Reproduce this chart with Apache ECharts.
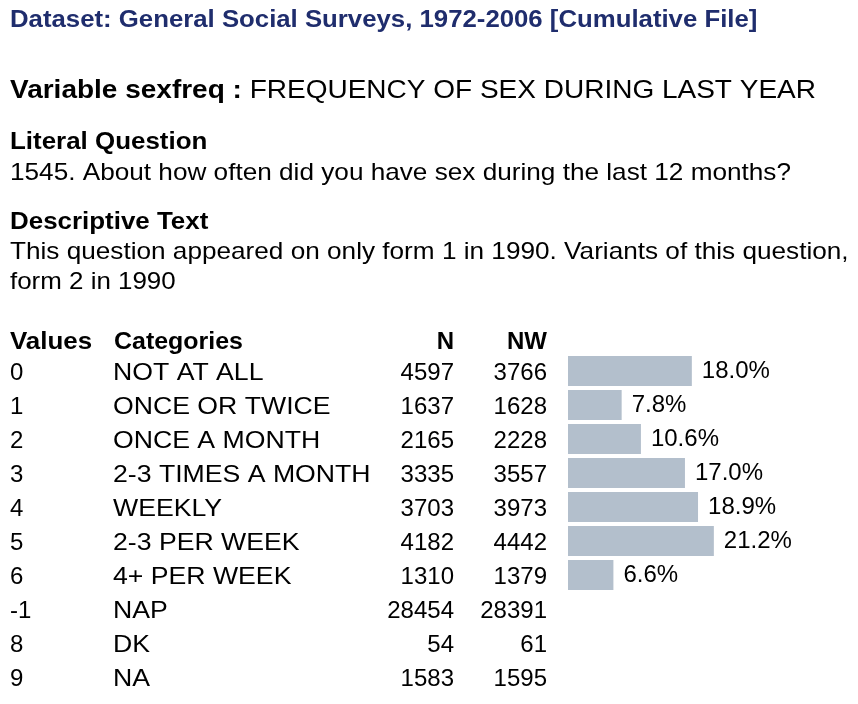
<!DOCTYPE html>
<html>
<head>
<meta charset="utf-8">
<script src="https://cdn.jsdelivr.net/npm/echarts@6/dist/echarts.min.js"></script>
<style>
html,body{margin:0;padding:0;background:#fff;}
#c{width:858px;height:704px;}
</style>
</head>
<body>
<div id="c"></div>
<script>
var codes = ['0','1','2','3','4','5','6','-1','8','9'];
var categories = ['NOT AT ALL','ONCE OR TWICE','ONCE A MONTH','2-3 TIMES A MONTH','WEEKLY','2-3 PER WEEK','4+ PER WEEK','NAP','DK','NA'];
var nCounts = [4597,1637,2165,3335,3703,4182,1310,28454,54,1583];
var nwCounts = [3766,1628,2228,3557,3973,4442,1379,28391,61,1595];
var pctCategories = ['NOT AT ALL','ONCE OR TWICE','ONCE A MONTH','2-3 TIMES A MONTH','WEEKLY','2-3 PER WEEK','4+ PER WEEK'];
var pctValues = [18.0,7.8,10.6,17.0,18.9,21.2,6.6];
var headers = ['Values','Categories','N','NW'];

var FONT = 'Liberation Sans, Arial, Helvetica, sans-serif';
var chart = echarts.init(document.getElementById('c'));

function txt(x, y, s, size, weight, color, align, sx) {
  return {
    type: 'text', x: x, y: y, scaleX: sx || 1, silent: true,
    style: {
      text: s, fontSize: size, fontWeight: weight || 'normal',
      fontFamily: FONT, fill: color || '#000',
      textAlign: align || 'left', textVerticalAlign: 'middle'
    }
  };
}

var g = [];
g.push(txt(10, 21, 'Dataset: General Social Surveys, 1972-2006 [Cumulative File]', 23, 'bold', '#1f2d6d', 'left', 1.12));
g.push({
  type: 'text', x: 10, y: 91, scaleX: 1.12, silent: true,
  style: {
    text: '{b|Variable sexfreq :}{n| FREQUENCY OF SEX DURING LAST YEAR}',
    textVerticalAlign: 'middle', fontFamily: FONT, fill: '#000',
    rich: {
      b: { fontSize: 25, fontWeight: 'bold', fontFamily: FONT, fill: '#000' },
      n: { fontSize: 25, fontFamily: FONT, fill: '#000' }
    }
  }
});
g.push(txt(10, 142, 'Literal Question', 24, 'bold', '#000', 'left', 1.08));
g.push(txt(10, 173, '1545. About how often did you have sex during the last 12 months?', 24, 'normal', '#000', 'left', 1.09));
g.push(txt(10, 222, 'Descriptive Text', 24, 'bold', '#000', 'left', 1.08));
g.push(txt(10, 252, 'This question appeared on only form 1 in 1990. Variants of this question,', 24, 'normal', '#000', 'left', 1.09));
g.push(txt(10, 282, 'form 2 in 1990', 24, 'normal', '#000', 'left', 1.08));

var colX = [10, 114, 454, 547];
var colAlign = ['left','left','right','right'];
var headScale = [1.08, 1.04, 1, 1];
for (var h = 0; h < headers.length; h++) {
  g.push(txt(colX[h], 342, headers[h], 24, 'bold', '#000', colAlign[h], headScale[h]));
}
for (var i = 0; i < codes.length; i++) {
  var y = 373 + 34 * i;
  g.push(txt(colX[0], y, codes[i], 24));
  g.push(txt(113, y, categories[i], 24, 'normal', '#000', 'left', 1.11));
  g.push(txt(colX[2], y, String(nCounts[i]), 24, 'normal', '#000', 'right'));
  g.push(txt(colX[3], y, String(nwCounts[i]), 24, 'normal', '#000', 'right'));
}

chart.setOption({
  animation: false,
  backgroundColor: '#fff',
  grid: { left: 568, top: 354, width: 172, height: 238, containLabel: false },
  xAxis: { type: 'value', min: 0, max: 25, show: false },
  yAxis: { type: 'category', data: pctCategories, inverse: true, show: false },
  series: [{
    type: 'bar',
    data: pctValues,
    barWidth: 30,
    itemStyle: { color: '#b3bfcc' },
    label: {
      show: true, position: 'right', distance: 10,
      fontSize: 24, fontFamily: FONT, color: '#000',
      formatter: function (p) { return p.value.toFixed(1) + '%'; }
    }
  }],
  graphic: g
});
</script>
</body>
</html>
